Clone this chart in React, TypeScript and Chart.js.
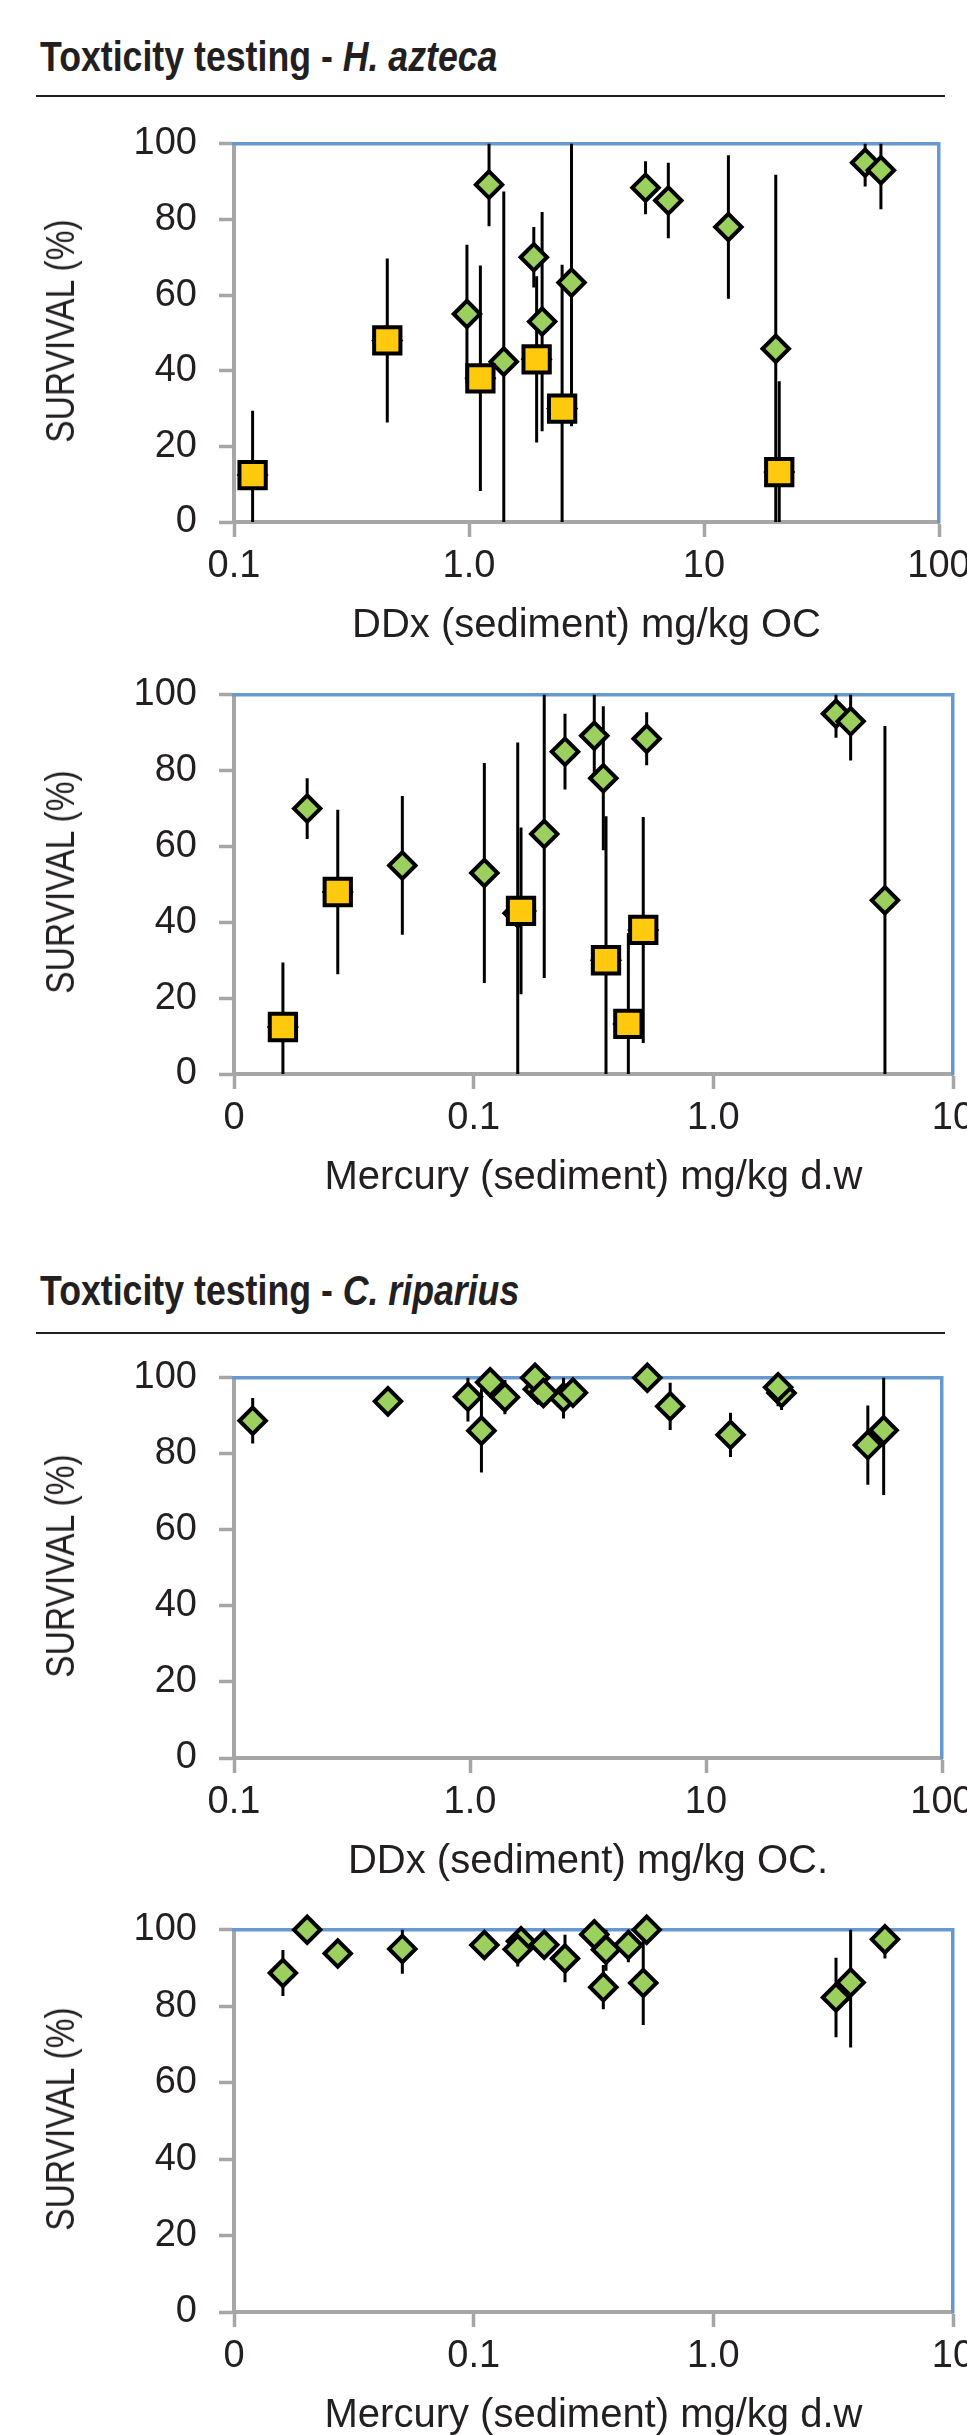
import React, { useEffect, useRef } from 'react';
import { Chart, registerables } from 'chart.js';

Chart.register(...registerables);

// ---- Data (one entry per sediment sample) ----
const ddxOC = [0.12, 0.449, 1.118, 1.94, 2.49, 20.9, 0.98, 1.217, 1.406, 1.887, 2.047, 2.73, 5.64, 7.05, 12.7, 20.2, 48.5, 56.6];
const mercuryDW = [0.016, 0.0271, 0.51, 0.1576, 0.3566, 0.442, 0.0504, 0.3186, 0.1527, 0.0202, 0.1108, 0.197, 0.527, 0.2405, 0.3475, 5.2, 3.25, 3.74];
const aztecaSurvival = [12.4, 48, 38, 43, 30, 13.2, 55, 89.2, 42.4, 70, 53, 63.3, 88.4, 85, 78, 45.8, 95, 93];
const aztecaError = [17, 21.7, 29.8, 22, 38, 24, 18.3, 11, 45, 8, 29, 38, 7, 10, 19, 46, 6.3, 10.3];
const ripariusSurvival = [88.7, 93.8, 86.1, 97, 94.8, 96, 95, 98.8, 94.9, 100, 96, 96.1, 100, 92.5, 85, 97.5, 82.3, 86.2];
const ripariusError = [6, 1, 11, 3, 5.5, 4.5, 6.5, 1, 4.5, 0, 2, 2, 0, 6.2, 5.8, 5, 10.4, 17];
const aztecaToxic = [true, true, true, true, true, true, false, false, false, false, false, false, false, false, false, false, false, false];

const survivalTicks = [0, 20, 40, 60, 80, 100];
const ddxTicks = [0.1, 1, 10, 100];
const ddxTickLabels = ['0.1', '1.0', '10', '100'];
const mercuryTicks = [0.01, 0.1, 1, 10];
const mercuryTickLabels = ['0', '0.1', '1.0', '10'];

// ---- Styles ----
const FONT = "'Liberation Sans', Arial, sans-serif";
const TEXT = '#231f20';
const GRAY = '#a6a6a6';
const BLUE = '#6699d0';
const GREEN = '#9bcf5e';
const YELLOW = '#ffc90e';

const errorBarPlugin = {
  id: 'errorBars',
  beforeDatasetsDraw(chart: any) {
    const { ctx, chartArea: a, scales } = chart;
    const xs = scales.x;
    const ys = scales.y;
    ctx.save();
    ctx.beginPath();
    ctx.rect(a.left, a.top, a.right - a.left, a.bottom - a.top);
    ctx.clip();
    ctx.strokeStyle = '#000';
    ctx.lineWidth = 3;
    chart.data.datasets.forEach((ds: any) => {
      if (!ds.errorBars) return;
      ds.data.forEach((pt: any, i: number) => {
        const e = ds.errorBars[i];
        if (!e) return;
        const px = xs.getPixelForValue(pt.x);
        ctx.beginPath();
        ctx.moveTo(px, ys.getPixelForValue(pt.y - e));
        ctx.lineTo(px, ys.getPixelForValue(pt.y + e));
        ctx.stroke();
      });
    });
    ctx.restore();
  },
};

type PanelProps = {
  plotTop: number;
  plotBottom: number;
  plotRight: number;
  xs: number[];
  ys: number[];
  errs: number[];
  toxic?: boolean[];
  xTicks: number[];
  xLabels: string[];
  xTitle: string;
};

const PAD_TOP = 40;
const X_AXIS_H = 130;
const CANVAS_W = 1000;

function Panel({ plotTop, plotBottom, plotRight, xs, ys, errs, toxic, xTicks, xLabels, xTitle }: PanelProps) {
  const ref = useRef<HTMLCanvasElement>(null);
  const h = PAD_TOP + (plotBottom - plotTop) + X_AXIS_H;

  useEffect(() => {
    if (!ref.current) return;
    const pts = xs.map((x, i) => ({ x, y: ys[i] }));
    const datasets: any[] = [];
    if (toxic) {
      datasets.push({
        data: pts.filter((_, i) => toxic[i]),
        pointStyle: 'rect',
        pointRadius: 18.6,
        pointBorderWidth: 4,
        pointBackgroundColor: YELLOW,
        pointBorderColor: '#000',
        showLine: false,
        clip: false,
        xAxisID: 'x',
        yAxisID: 'y',
      });
    }
    datasets.push({
      data: pts,
      errorBars: errs,
      pointStyle: 'rectRot',
      pointRadius: 13.2,
      pointBorderWidth: 4,
      pointBackgroundColor: GREEN,
      pointBorderColor: '#000',
      showLine: false,
      clip: false,
      xAxisID: 'x',
      yAxisID: 'y',
    });

    const gridOpts = {
      display: true,
      drawOnChartArea: false,
      drawTicks: true,
      tickLength: 15,
      tickWidth: 3.5,
      tickColor: GRAY,
    };

    const chart = new Chart(ref.current, {
      type: 'scatter',
      data: { datasets },
      plugins: [errorBarPlugin],
      options: {
        animation: false,
        responsive: false,
        events: [],
        layout: { padding: { top: PAD_TOP, right: CANVAS_W - plotRight, bottom: 0, left: 0 } },
        plugins: { legend: { display: false }, tooltip: { enabled: false } },
        scales: {
          x: {
            type: 'logarithmic',
            position: 'bottom',
            min: xTicks[0],
            max: xTicks[xTicks.length - 1],
            afterBuildTicks: (s: any) => {
              s.ticks = xTicks.map((v) => ({ value: v }));
            },
            afterFit: (s: any) => {
              s.height = X_AXIS_H;
            },
            ticks: {
              autoSkip: false,
              maxRotation: 0,
              padding: 7,
              color: TEXT,
              font: { family: FONT, size: 38 },
              callback: (_v: any, i: number) => xLabels[i],
            },
            grid: gridOpts,
            border: { display: true, color: GRAY, width: 4 },
            title: {
              display: true,
              text: xTitle,
              color: TEXT,
              font: { family: FONT, size: 40 },
              padding: { top: 0, bottom: 2 },
            },
          },
          y: {
            type: 'linear',
            position: 'left',
            min: 0,
            max: 100,
            afterBuildTicks: (s: any) => {
              s.ticks = survivalTicks.map((v) => ({ value: v }));
            },
            afterFit: (s: any) => {
              s.width = 234;
            },
            ticks: {
              padding: 22,
              color: TEXT,
              font: { family: FONT, size: 38 },
            },
            grid: gridOpts,
            border: { display: true, color: GRAY, width: 4 },
          },
          x2: {
            type: 'linear',
            position: 'top',
            min: 0,
            max: 1,
            ticks: { display: false },
            grid: { display: false, drawTicks: false },
            border: { display: true, color: BLUE, width: 3.5 },
            afterFit: (s: any) => {
              s.height = 0;
            },
          },
          y2: {
            type: 'linear',
            position: 'right',
            min: 0,
            max: 1,
            ticks: { display: false },
            grid: { display: false, drawTicks: false },
            border: { display: true, color: BLUE, width: 3.5 },
            afterFit: (s: any) => {
              s.width = 0;
            },
          },
        },
      } as any,
    });
    return () => chart.destroy();
  }, []);

  const centerY = (plotTop + plotBottom) / 2;
  return (
    <>
      <canvas
        ref={ref}
        width={CANVAS_W}
        height={h}
        style={{ position: 'absolute', left: 0, top: plotTop - PAD_TOP, width: CANVAS_W, height: h }}
      />
      <div
        style={{
          position: 'absolute',
          left: 60 - 170,
          top: centerY - 24,
          width: 340,
          height: 48,
          lineHeight: '48px',
          textAlign: 'center',
          fontFamily: FONT,
          fontSize: 40,
          color: TEXT,
          whiteSpace: 'nowrap',
          transform: 'rotate(-90deg) scaleX(0.84)',
          transformOrigin: 'center center',
        }}
      >
        SURVIVAL (%)
      </div>
    </>
  );
}

function SectionTitle({ top, prefix, species }: { top: number; prefix: string; species: string }) {
  return (
    <div
      style={{
        position: 'absolute',
        left: 40,
        top,
        fontFamily: FONT,
        fontWeight: 'bold',
        fontSize: 43,
        lineHeight: '43px',
        color: TEXT,
        whiteSpace: 'nowrap',
        transform: 'scaleX(0.83)',
        transformOrigin: 'left top',
      }}
    >
      {prefix}
      <span style={{ fontStyle: 'italic' }}>{species}</span>
    </div>
  );
}

function Rule({ top }: { top: number }) {
  return <div style={{ position: 'absolute', left: 36, top, width: 909, height: 2, background: '#231f20' }} />;
}

export default function App() {
  return (
    <div
      style={{
        position: 'absolute',
        left: 0,
        top: 0,
        width: 967,
        height: 2435,
        overflow: 'hidden',
        background: '#fff',
      }}
    >
      <SectionTitle top={35} prefix="Toxticity testing - " species="H. azteca" />
      <Rule top={95} />
      <Panel
        plotTop={139}
        plotBottom={522}
        plotRight={939}
        xs={ddxOC}
        ys={aztecaSurvival}
        errs={aztecaError}
        toxic={aztecaToxic}
        xTicks={ddxTicks}
        xLabels={ddxTickLabels}
        xTitle="DDx (sediment) mg/kg OC"
      />
      <Panel
        plotTop={690}
        plotBottom={1074}
        plotRight={953}
        xs={mercuryDW}
        ys={aztecaSurvival}
        errs={aztecaError}
        toxic={aztecaToxic}
        xTicks={mercuryTicks}
        xLabels={mercuryTickLabels}
        xTitle="Mercury (sediment) mg/kg d.w"
      />
      <SectionTitle top={1269} prefix="Toxticity testing - " species="C. riparius" />
      <Rule top={1332} />
      <Panel
        plotTop={1373}
        plotBottom={1758}
        plotRight={942}
        xs={ddxOC}
        ys={ripariusSurvival}
        errs={ripariusError}
        xTicks={ddxTicks}
        xLabels={ddxTickLabels}
        xTitle="DDx (sediment) mg/kg OC."
      />
      <Panel
        plotTop={1925}
        plotBottom={2312}
        plotRight={953}
        xs={mercuryDW}
        ys={ripariusSurvival}
        errs={ripariusError}
        xTicks={mercuryTicks}
        xLabels={mercuryTickLabels}
        xTitle="Mercury (sediment) mg/kg d.w"
      />
    </div>
  );
}
